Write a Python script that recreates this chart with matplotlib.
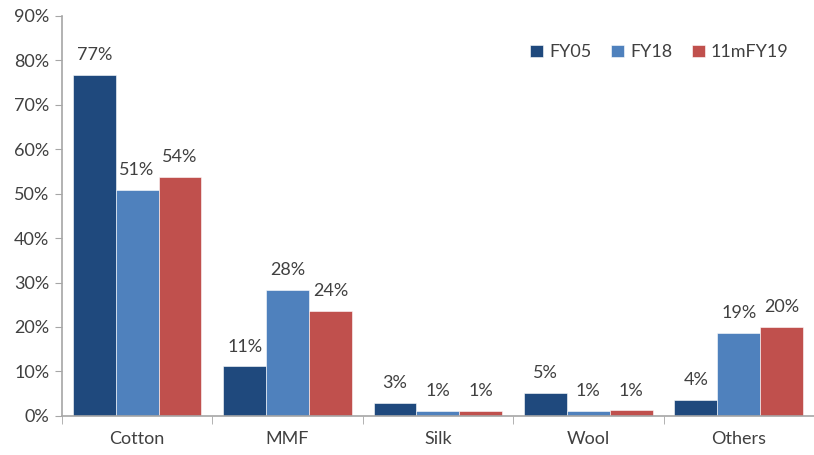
import numpy as np
import matplotlib.pyplot as plt
from matplotlib.ticker import MultipleLocator, FuncFormatter

categories = ['Cotton', 'MMF', 'Silk', 'Wool', 'Others']
series_names = ['FY05', 'FY18', '11mFY19']
fy05 = [76.8, 11.2, 2.9, 5.2, 3.6]
fy18 = [50.9, 28.4, 1.1, 1.1, 18.7]
fy19_11m = [53.8, 23.7, 1.1, 1.3, 20.1]
colors = ['#1F497D', '#4F81BD', '#C0504D']

plt.rcParams['font.family'] = ['Lato', 'DejaVu Sans']
text_color = '#404040'
axis_color = '#A6A6A6'

fig = plt.figure(figsize=(8.14, 4.55), dpi=100)
ax = fig.add_axes([0.076, 0.086, 0.924, 0.879])

x = np.arange(len(categories))
width = 0.285
for i, (vals, name, c) in enumerate(zip([fy05, fy18, fy19_11m], series_names, colors)):
    pos = x + (i - 1) * width
    ax.bar(pos, vals, width, color=c, label=name, edgecolor='white', linewidth=0.4)
    for px, v in zip(pos, vals):
        ax.text(px, v + 2.6, f'{v:.0f}%', ha='center', va='bottom',
                fontsize=13, color=text_color)

ax.set_xlim(-0.5, 4.48)
ax.set_ylim(0, 90)
ax.yaxis.set_major_locator(MultipleLocator(10))
ax.yaxis.set_major_formatter(FuncFormatter(lambda v, _: f'{v:.0f}%'))

# category labels centred, tick marks on the group boundaries
ax.set_xticks(x)
ax.set_xticklabels(categories)
ax.set_xticks(np.arange(-0.5, 5, 1), minor=True)
ax.tick_params(axis='x', which='major', length=0, pad=11, labelsize=13, colors=text_color)
ax.tick_params(axis='x', which='minor', length=6, direction='out', color=axis_color)
ax.tick_params(axis='y', length=5, direction='out', color=axis_color, labelsize=13,
               labelcolor=text_color, pad=4)

for side in ['top', 'right']:
    ax.spines[side].set_visible(False)
for side in ['left', 'bottom']:
    ax.spines[side].set_color(axis_color)
    ax.spines[side].set_linewidth(1.2)

leg = ax.legend(loc='upper right', bbox_to_anchor=(0.988, 0.97), ncol=3, frameon=False,
                fontsize=13, handlelength=0.7, handleheight=0.7, handletextpad=0.35,
                columnspacing=1.1)
for t in leg.get_texts():
    t.set_color(text_color)

fig.savefig('out.png', dpi=100)
